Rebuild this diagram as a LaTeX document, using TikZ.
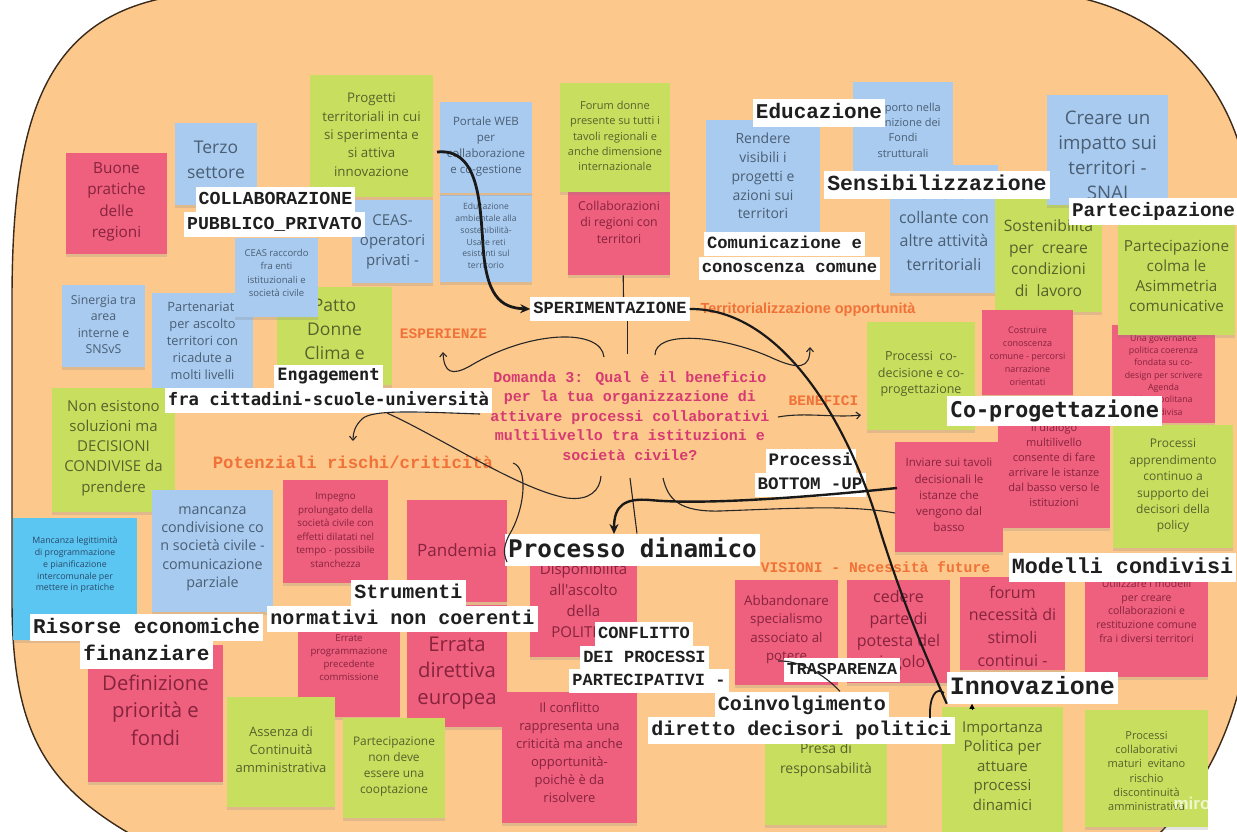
\documentclass[tikz,border=0pt]{standalone}
\usepackage{fontspec}
\newfontfamily\osans{Open Sans}
\newfontfamily\lmono{Liberation Mono}
\newfontfamily\dmono{DejaVu Sans Mono}
\newfontfamily\lsans{Liberation Sans}
\usetikzlibrary{shadows,arrows.meta}

\definecolor{board}{HTML}{FDC88C}
\definecolor{boardline}{HTML}{3A2A1A}
\definecolor{pkF}{HTML}{EF5F7E}
\definecolor{pkT}{HTML}{86243C}
\definecolor{grF}{HTML}{C8DE5E}
\definecolor{grT}{HTML}{56622C}
\definecolor{blF}{HTML}{A9CBF0}
\definecolor{blT}{HTML}{4A5E74}
\definecolor{cyF}{HTML}{5CC6F2}
\definecolor{cyT}{HTML}{27496A}
\definecolor{heading}{HTML}{F07238}
\definecolor{question}{HTML}{D63A72}

\newcommand\lfont[1]{\lmono\bfseries\fontsize{#1}{#1}\selectfont}
\newcommand\dfont[1]{\dmono\bfseries\fontsize{#1}{#1}\selectfont}

\tikzset{
  note/.style={rectangle, inner sep=0pt,
    drop shadow={shadow xshift=0pt, shadow yshift=-3pt, opacity=0.22}},
  ntext/.style={align=center, inner sep=0pt},
  tag/.style={fill=white, inner xsep=3pt, inner ysep=4pt, text=black!88,
    execute at begin node={\rule[-0.2em]{0pt}{0.92em}}},
  head/.style={anchor=base, inner sep=0pt, text=heading},
  bigline/.style={line width=2.4pt, draw=black!90},
  smallline/.style={line width=1.1pt, draw=black!85},
  bigtip/.style={-{Stealth[length=10pt,width=9pt]}},
  smalltip/.style={-{Straight Barb[length=4pt,width=7pt]}},
}

% sticky note: name, colour, x1, y1, x2, y2, text centre y, {size}{skip}, text
\newcommand{\stick}[9]{%
  \node[note, fill=#2F, minimum width={#5-#3}, minimum height={#6-#4},
        anchor=north west] (#1) at (#3,#4) {};
  \node[ntext, text=#2T, font={\osans\fontsize#8\selectfont}] (#1-t)
        at ({(#3+#5)/2},#7) {#9};
}

\begin{document}
\begin{tikzpicture}[x=1pt,y=-1pt]
\useasboundingbox (0,0) rectangle (1237,831);
\clip (0,0) rectangle (1237,831);
\fill[white] (0,0) rectangle (1237,831);

% board
\filldraw[fill=board, draw=boardline, line width=1.4pt]
  (230,-8) -- (1025,-8) .. controls (1155,-8) and (1252,85) .. (1252,230)
  -- (1252,580) .. controls (1252,690) and (1218,790) .. (1130,860)
  -- (180,860) .. controls (55,800) and (12,750) .. (12,600)
  -- (12,300) .. controls (12,100) and (50,-8) .. (230,-8) -- cycle;

% sticky notes
\stick{n-buone}{pk}{66}{153}{167}{254}{202}{{15.3}{21.3}}{Buone\\pratiche\\delle\\regioni}
\stick{n-terzo}{bl}{175}{123}{257}{205}{160}{{17.5}{25}}{Terzo\\settore}
\stick{n-progetti}{gr}{310}{75}{433}{197}{134.6}{{13.3}{18.3}}{Progetti\\territoriali in cui\\si sperimenta e\\si attiva\\innovazione}
\stick{n-ceasop}{bl}{352}{200}{433}{283}{242}{{15}{19.8}}{CEAS-\\operatori\\privati -}
\stick{n-eduamb}{bl}{440}{195}{532}{282}{236}{{8.6}{11.8}}{Educazione\\ambientale alla\\sostenibilità-\\Usare reti\\esistenti sul\\territorio}
\stick{n-portale}{bl}{440}{102}{532}{193}{146.5}{{11.5}{15.8}}{Portale WEB\\per\\collaborazione\\e co-gestione}
\stick{n-collab}{pk}{568}{165}{670}{275}{222}{{12.3}{16.5}}{Collaborazioni\\di regioni con\\territori}
\stick{n-forum}{gr}{560}{83}{670}{192}{136}{{11}{15.3}}{Forum donne\\presente su tutti i\\tavoli regionali e\\anche dimensione\\internazionale}
\stick{n-rendere}{bl}{706}{120}{820}{240}{176}{{14}{18.8}}{Rendere\\visibili i\\progetti e\\azioni sui\\territori}
\stick{n-supporto}{bl}{853}{82}{953}{175}{130}{{11}{15.3}}{Supporto nella\\definizione dei\\Fondi\\strutturali}
\stick{n-snsvs}{bl}{890}{165}{998}{293}{229.5}{{16}{23.5}}{SNSvS\\collante con\\altre attività\\territoriali}
\stick{n-sosten}{gr}{995}{192}{1102}{312}{258}{{15.7}{21.5}}{Sostenibilità\\per~ creare\\condizioni\\di~ lavoro}
\stick{n-creare}{bl}{1047}{95}{1168}{205}{155}{{18.7}{25}}{Creare un\\impatto sui\\territori -\\SNAI}
\stick{n-govern}{pk}{1112}{325}{1215}{423}{375}{{8.8}{12.3}}{Una governance\\politica coerenza\\fondata su co-\\design per scrivere\\Agenda\\Metropolitana\\condivisa}
\stick{n-partcolma}{gr}{1118}{205}{1235}{335}{276}{{15.3}{20}}{Partecipazione\\colma le\\Asimmetria\\comunicative}
\stick{n-sinergia}{bl}{62}{285}{145}{367}{324.5}{{12.3}{16.2}}{Sinergia tra\\area\\interne e\\SNSvS}
\stick{n-parten}{bl}{152}{293}{253}{390}{341}{{12.8}{17}}{Partenariati\\per ascolto\\territori con\\ricadute a\\molti livelli}
\stick{n-patto}{gr}{277}{287}{392}{385}{329}{{17.5}{24}}{Patto\\Donne\\Clima e}
\stick{n-ceasracc}{bl}{235}{238}{318}{317}{273}{{9.5}{13.3}}{CEAS raccordo\\fra enti\\istituzionali e\\società civile}
\stick{n-nonesist}{gr}{52}{388}{175}{512}{448}{{15}{20.2}}{Non esistono\\soluzioni ma\\DECISIONI\\CONDIVISE da\\prendere}
\stick{n-mancleg}{cy}{13}{518}{137}{640}{565}{{8.8}{11.8}}{Mancanza legittimità\\di programmazione\\e pianificazione\\intercomunale per\\mettere in pratiche}
\stick{n-manccond}{bl}{152}{490}{273}{612}{548.6}{{14.3}{18.3}}{mancanza\\condivisione co\\n società civile -\\comunicazione\\parziale}
\stick{n-impegno}{pk}{283}{480}{388}{583}{530}{{9.8}{13.6}}{Impegno\\prolungato della\\società civile con\\effetti dilatati nel\\tempo - possibile\\stanchezza}
\stick{n-pandemia}{pk}{407}{500}{507}{602}{550}{{17}{22}}{Pandemia}
\stick{n-errate}{pk}{298}{620}{400}{717}{657.5}{{9.6}{13}}{Errate\\programmazione\\precedente\\commissione}
\stick{n-errata}{pk}{407}{605}{507}{727}{673}{{20.3}{26.8}}{Errata\\direttiva\\europea}
\stick{n-definiz}{pk}{88}{645}{223}{782}{710}{{20.3}{27.5}}{Definizione\\priorità e\\fondi}
\stick{n-assenza}{gr}{227}{697}{335}{807}{750}{{13}{18}}{Assenza di\\Continuità\\amministrativa}
\stick{n-partnon}{gr}{343}{718}{445}{818}{767}{{11.9}{16}}{Partecipazione\\non deve\\essere una\\cooptazione}
\stick{n-dispon}{pk}{530}{540}{637}{657}{600}{{15}{21}}{Disponibilità\\all'ascolto\\della\\POLITICA}
\stick{n-conflitto}{pk}{502}{692}{637}{823}{753}{{13}{18}}{Il conflitto\\rappresenta una\\criticità ma anche\\opportunità-\\poichè è da\\risolvere}
\stick{n-codec}{gr}{867}{322}{975}{430}{374}{{12.5}{16.5}}{Processi~ co-\\decisione e co-\\progettazione}
\stick{n-costr}{pk}{982}{310}{1073}{395}{356}{{9}{13}}{Costruire\\conoscenza\\comune - percorsi\\narrazione\\orientati}
\stick{n-dialogo}{pk}{998}{415}{1110}{528}{465}{{11}{15}}{Il dialogo\\multilivello\\consente di fare\\arrivare le istanze\\dal basso verso le\\istituzioni}
\stick{n-inviare}{pk}{895}{442}{1003}{552}{495}{{11.5}{16.2}}{Inviare sui tavoli\\decisionali le\\istanze che\\vengono dal\\basso}
\stick{n-apprend}{gr}{1113}{425}{1233}{548}{486}{{12}{16.4}}{Processi\\apprendimento\\continuo a\\supporto dei\\decisori della\\policy}
\stick{n-abband}{pk}{735}{580}{838}{685}{629.5}{{13.3}{18.3}}{Abbandonare\\specialismo\\associato al\\potere}
\stick{n-cedere}{pk}{847}{580}{950}{683}{631}{{16}{21.7}}{cedere\\parte di\\potesta del\\singolo}
\stick{n-forum2}{pk}{960}{577}{1065}{670}{626}{{16}{22.7}}{forum\\necessità di\\stimoli\\continui -}
\stick{n-utilizz}{pk}{1085}{577}{1208}{677}{611}{{10.5}{13.8}}{Utilizzare i modelli\\per creare\\collaborazioni e\\restituzione comune\\fra i diversi territori}
\stick{n-presa}{gr}{765}{700}{887}{825}{760}{{14}{20}}{Presa di\\responsabilità}
\stick{n-import}{gr}{942}{707}{1063}{835}{766}{{15}{19.5}}{Importanza\\Politica per\\attuare\\processi\\dinamici}
\stick{n-collmat}{gr}{1085}{710}{1208}{827}{771}{{11}{14.3}}{Processi\\collaborativi\\maturi~ evitano\\rischio\\discontinuità\\amministrativa}

% headings
\node[head, font=\lfont{14.5}] (h-esp) at (443.5,338) {ESPERIENZE};
\node[head, font=\lfont{17.3}] (h-risk) at (353,468) {Potenziali rischi/criticità};
\node[head, font=\lsans\bfseries\fontsize{14.5}{14.5}\selectfont] (h-terr) at (808,313) {Territorializzazione opportunità};
\node[head, font=\lfont{14.5}] (h-ben) at (823.5,405) {BENEFICI};
\node[head, font=\lfont{14.7}] (h-vis) at (875.5,572) {VISIONI - Necessità future};

% central question
\node[align=center, inner sep=0pt, text=question,
      font={\lmono\bfseries\fontsize{15}{19.5}\selectfont}] (q) at (630,416)
  {Domanda 3: Qual è il beneficio\\per la tua organizzazione di\\attivare processi collaborativi\\multilivello tra istituzioni e\\società civile?};

% white tags
\node[tag, font=\lfont{18.3}] (lab-col1) at (275.5,199.5) {COLLABORAZIONE};
\node[tag, font=\lfont{18.2}] (lab-col2) at (274.5,224.5) {PUBBLICO\_PRIVATO};
\node[tag, font=\lfont{21}] (lab-edu) at (819,113) {Educazione};
\node[tag, font=\lfont{21.5}] (lab-sens) at (937,185) {Sensibilizzazione};
\node[tag, font=\lfont{19.4}] (lab-part) at (1153.5,211.5) {Partecipazione};
\node[tag, font=\lfont{17.2}] (lab-com1) at (784.5,244) {Comunicazione e};
\node[tag, font=\lfont{17.2}] (lab-com2) at (789.5,268.5) {conoscenza comune};
\node[tag, font=\lfont{17}] (lab-sper) at (610,309) {SPERIMENTAZIONE};
\node[tag, font=\dfont{17}] (lab-eng) at (328.5,376.5) {Engagement};
\node[tag, font=\dfont{17.2}] (lab-fra) at (328.5,400.5) {fra cittadini-scuole-università};
\node[tag, font=\dfont{21.7}] (lab-cop) at (1054.5,411) {Co-progettazione};
\node[tag, font=\lfont{17.5}] (lab-proc) at (810.5,461) {Processi};
\node[tag, font=\lfont{17.5}] (lab-bot) at (810,485) {BOTTOM -UP};
\node[tag, font=\dfont{24.3}] (lab-pd) at (632.5,550) {Processo dinamico};
\node[tag, font=\lfont{21.7}] (lab-mod) at (1122.5,567.5) {Modelli condivisi};
\node[tag, font=\lfont{20}] (lab-str) at (408.5,593.5) {Strumenti};
\node[tag, font=\lfont{20}] (lab-norm) at (402.5,619) {normativi non coerenti};
\node[tag, font=\lfont{21}] (lab-ris) at (146.5,627.5) {Risorse economiche};
\node[tag, font=\lfont{21}] (lab-fin) at (146.5,655) {finanziare};
\node[tag, font=\lfont{17}] (lab-con1) at (644,634) {CONFLITTO};
\node[tag, font=\lfont{17}] (lab-con2) at (644.5,658) {DEI PROCESSI};
\node[tag, font=\lfont{17}] (lab-con3) at (649,681) {PARTECIPATIVI -};
\node[tag, font=\lfont{16.7}] (lab-tra) at (842,670) {TRASPARENZA};
\node[tag, font=\lfont{20}] (lab-coinv) at (802,705) {Coinvolgimento};
\node[tag, font=\lfont{20}] (lab-dir) at (801.5,730.5) {diretto decisori politici};
\node[tag, font=\lfont{25}] (lab-inno) at (1032.5,688) {Innovazione};

% connector end points
\coordinate (p-prog) at (437,152);
\coordinate (p-hook) at (930,718);
\coordinate (p-up) at (972,709);
\coordinate (q-top) at (627.5,354);
\coordinate (q-esp) at (604,357);
\coordinate (esp-tip) at (443,352);
\coordinate (q-terr) at (655,355);
\coordinate (terr-tip) at (810,347);
\coordinate (q-ben) at (778,417);
\coordinate (ben-tip) at (861,415);
\coordinate (q-risk) at (480,414);
\coordinate (risk-tip) at (353,441);
\coordinate (fra-out) at (387,413);
\coordinate (q-fra) at (601,476);
\coordinate (risk-out) at (513,463);
\coordinate (pand-in) at (507,562);
\coordinate (q-pd) at (630,478);
\coordinate (q-inv) at (663,478);
\coordinate (inv-in) at (895,513);
\coordinate (inv-out) at (897,488);
\coordinate (pd-tip) at (614,534);
\coordinate (pot-out) at (778,661);

% connectors
\draw[bigline, line width=2.8pt, bigtip] (p-prog) .. controls (478,148) and (480,200) .. (483,245)
  .. controls (486,295) and (500,308) .. (lab-sper.west);
\draw[bigline, line width=2.2pt] (lab-sper.east) .. controls (780,308) and (848,420) .. (880,530)
  .. controls (905,610) and (930,665) .. (lab-inno.south west);
\draw[line width=1.8pt, black!90] (p-hook) .. controls (929,697) and (936,686) .. (944,693);
\draw[line width=0.8pt, -{Triangle[length=5pt,width=5pt]}] (p-up) -- (p-up |- lab-inno.south);
\draw[smallline] ([xshift=4pt]n-collab.south) -- ([xshift=13.5pt]lab-sper.north);
\draw[smallline] ([xshift=17.5pt]lab-sper.south) -- (q-top);
\draw[smallline, smalltip] (q-esp) .. controls (601,328) and (530,330) .. (470,366)
  .. controls (452,376) and (444,373) .. (esp-tip);
\draw[smallline, smalltip] (q-terr) .. controls (655,330) and (720,335) .. (770,357)
  .. controls (800,371) and (810,368) .. (terr-tip);
\draw[smallline, smalltip] (q-ben) .. controls (805,412) and (835,418) .. (ben-tip);
\draw[smallline, smalltip] (q-risk) .. controls (420,412) and (372,409) .. (362,419)
  .. controls (355,426) and (353,432) .. (risk-tip);
\draw[smallline] (fra-out) .. controls (440,437) and (520,490) .. (567,498)
  .. controls (590,501) and (600,490) .. (q-fra);
\draw[smallline] (risk-out) .. controls (528,468) and (525,505) .. (512,530)
  .. controls (503,545) and (503,553) .. (pand-in);
\draw[smallline] (q-pd) -- ([xshift=4.5pt]lab-pd.north);
\draw[smallline] (q-inv) .. controls (668,500) and (680,512) .. (720,511)
  .. controls (800,508) and (850,505) .. (inv-in);
\draw[bigline, bigtip] (inv-out) .. controls (800,498) and (700,505) .. (650,500)
  .. controls (625,498) and (614,505) .. (pd-tip);
\draw[smallline] (pot-out) .. controls (800,660) and (825,675) .. ([xshift=38pt]lab-coinv.north);

% watermark
\node[font=\lsans\bfseries\fontsize{17}{17}\selectfont, text=white, opacity=0.7] (wm) at (1192,803) {miro};
\end{tikzpicture}
\end{document}
